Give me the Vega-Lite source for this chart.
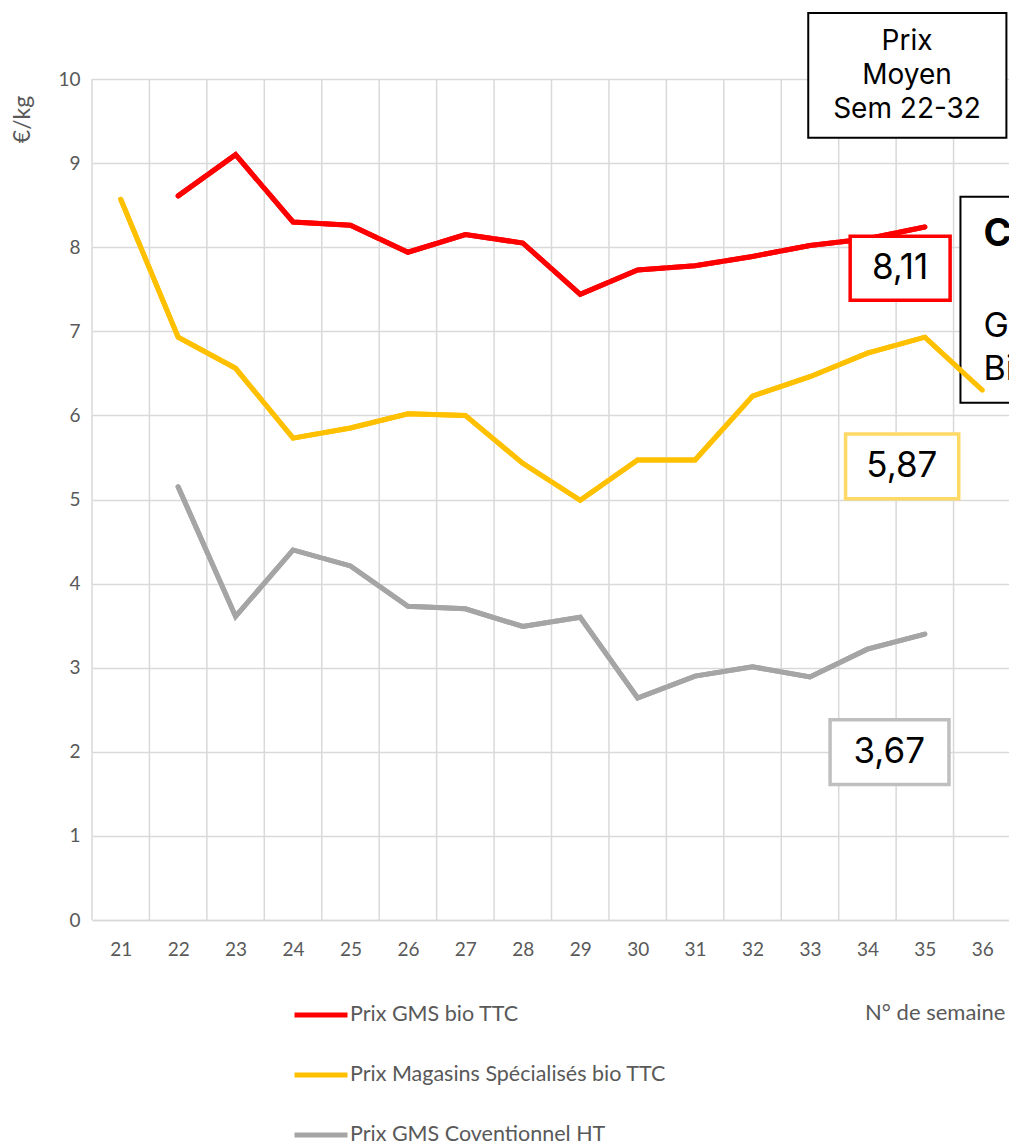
{
  "$schema": "https://vega.github.io/schema/vega-lite/v6.json",
  "width": 919,
  "height": 841,
  "autosize": {"type": "none"},
  "padding": {"left": 92, "top": 79, "right": 0, "bottom": 224},
  "background": "white",
  "config": {"view": {"stroke": null}, "font": "Lato"},
  "datasets": {
    "prices": [
      {"semaine": 22, "serie": "Prix GMS bio TTC", "prix": 8.61},
      {"semaine": 23, "serie": "Prix GMS bio TTC", "prix": 9.10},
      {"semaine": 24, "serie": "Prix GMS bio TTC", "prix": 8.30},
      {"semaine": 25, "serie": "Prix GMS bio TTC", "prix": 8.26},
      {"semaine": 26, "serie": "Prix GMS bio TTC", "prix": 7.94},
      {"semaine": 27, "serie": "Prix GMS bio TTC", "prix": 8.15},
      {"semaine": 28, "serie": "Prix GMS bio TTC", "prix": 8.05},
      {"semaine": 29, "serie": "Prix GMS bio TTC", "prix": 7.44},
      {"semaine": 30, "serie": "Prix GMS bio TTC", "prix": 7.73},
      {"semaine": 31, "serie": "Prix GMS bio TTC", "prix": 7.78},
      {"semaine": 32, "serie": "Prix GMS bio TTC", "prix": 7.89},
      {"semaine": 33, "serie": "Prix GMS bio TTC", "prix": 8.02},
      {"semaine": 34, "serie": "Prix GMS bio TTC", "prix": 8.10},
      {"semaine": 35, "serie": "Prix GMS bio TTC", "prix": 8.24},
      {"semaine": 21, "serie": "Prix Magasins Spécialisés bio TTC", "prix": 8.57},
      {"semaine": 22, "serie": "Prix Magasins Spécialisés bio TTC", "prix": 6.93},
      {"semaine": 23, "serie": "Prix Magasins Spécialisés bio TTC", "prix": 6.56},
      {"semaine": 24, "serie": "Prix Magasins Spécialisés bio TTC", "prix": 5.73},
      {"semaine": 25, "serie": "Prix Magasins Spécialisés bio TTC", "prix": 5.85},
      {"semaine": 26, "serie": "Prix Magasins Spécialisés bio TTC", "prix": 6.02},
      {"semaine": 27, "serie": "Prix Magasins Spécialisés bio TTC", "prix": 6.00},
      {"semaine": 28, "serie": "Prix Magasins Spécialisés bio TTC", "prix": 5.43},
      {"semaine": 29, "serie": "Prix Magasins Spécialisés bio TTC", "prix": 4.99},
      {"semaine": 30, "serie": "Prix Magasins Spécialisés bio TTC", "prix": 5.47},
      {"semaine": 31, "serie": "Prix Magasins Spécialisés bio TTC", "prix": 5.47},
      {"semaine": 32, "serie": "Prix Magasins Spécialisés bio TTC", "prix": 6.23},
      {"semaine": 33, "serie": "Prix Magasins Spécialisés bio TTC", "prix": 6.46},
      {"semaine": 34, "serie": "Prix Magasins Spécialisés bio TTC", "prix": 6.74},
      {"semaine": 35, "serie": "Prix Magasins Spécialisés bio TTC", "prix": 6.93},
      {"semaine": 36, "serie": "Prix Magasins Spécialisés bio TTC", "prix": 6.30},
      {"semaine": 22, "serie": "Prix GMS Coventionnel HT", "prix": 5.15},
      {"semaine": 23, "serie": "Prix GMS Coventionnel HT", "prix": 3.61},
      {"semaine": 24, "serie": "Prix GMS Coventionnel HT", "prix": 4.40},
      {"semaine": 25, "serie": "Prix GMS Coventionnel HT", "prix": 4.21},
      {"semaine": 26, "serie": "Prix GMS Coventionnel HT", "prix": 3.73},
      {"semaine": 27, "serie": "Prix GMS Coventionnel HT", "prix": 3.70},
      {"semaine": 28, "serie": "Prix GMS Coventionnel HT", "prix": 3.49},
      {"semaine": 29, "serie": "Prix GMS Coventionnel HT", "prix": 3.60},
      {"semaine": 30, "serie": "Prix GMS Coventionnel HT", "prix": 2.64},
      {"semaine": 31, "serie": "Prix GMS Coventionnel HT", "prix": 2.90},
      {"semaine": 32, "serie": "Prix GMS Coventionnel HT", "prix": 3.01},
      {"semaine": 33, "serie": "Prix GMS Coventionnel HT", "prix": 2.89},
      {"semaine": 34, "serie": "Prix GMS Coventionnel HT", "prix": 3.22},
      {"semaine": 35, "serie": "Prix GMS Coventionnel HT", "prix": 3.40}
    ],
    "gridx": [
      {"gx": 20.5}, {"gx": 21.5}, {"gx": 22.5}, {"gx": 23.5}, {"gx": 24.5}, {"gx": 25.5},
      {"gx": 26.5}, {"gx": 27.5}, {"gx": 28.5}, {"gx": 29.5}, {"gx": 30.5}, {"gx": 31.5},
      {"gx": 32.5}, {"gx": 33.5}, {"gx": 34.5}, {"gx": 35.5}, {"gx": 36.5}
    ],
    "blackboxes": [
      {"id": "moyen", "x1": 32.97, "x2": 36.42, "y1": 10.785, "y2": 9.30},
      {"id": "cible", "x1": 35.62, "x2": 38.5, "y1": 8.60, "y2": 6.15}
    ],
    "valueboxes": [
      {"id": "GMS bio", "x1": 33.70, "x2": 35.44, "y1": 8.13, "y2": 7.37, "texte": "8,11", "tx": 34.57, "ty": 7.75},
      {"id": "MS bio", "x1": 33.62, "x2": 35.59, "y1": 5.78, "y2": 5.01, "texte": "5,87", "tx": 34.60, "ty": 5.40},
      {"id": "GMS conv", "x1": 33.35, "x2": 35.42, "y1": 2.38, "y2": 1.61, "texte": "3,67", "tx": 34.38, "ty": 2.00}
    ],
    "moyenlines": [
      {"texte": "Prix", "tx": 34.69, "ty": 10.44},
      {"texte": "Moyen", "tx": 34.69, "ty": 10.04},
      {"texte": "Sem 22-32", "tx": 34.69, "ty": 9.63}
    ],
    "ciblebold": [
      {"texte": "C", "tx": 36.02, "ty": 8.14}
    ],
    "ciblelines": [
      {"texte": "G", "tx": 36.02, "ty": 7.05},
      {"texte": "Bi", "tx": 36.02, "ty": 6.54}
    ]
  },
  "layer": [
    {
      "data": {"name": "prices"},
      "mark": {"type": "line", "strokeWidth": 5, "strokeCap": "round", "strokeJoin": "miter"},
      "encoding": {
        "x": {
          "field": "semaine", "type": "quantitative", "title": "N° de semaine",
          "scale": {"domain": [20.5, 36.5], "nice": false, "zero": false},
          "axis": {
            "values": [21, 22, 23, 24, 25, 26, 27, 28, 29, 30, 31, 32, 33, 34, 35, 36],
            "format": "d", "grid": false, "ticks": false,
            "domainColor": "#D9D9D9", "domainWidth": 1.5,
            "labelFontSize": 19, "labelColor": "#595959", "labelPadding": 20,
            "labelFlush": false,
            "titleFontSize": 22, "titleFontWeight": "normal",
            "titleColor": "#595959", "titleX": 913, "titleY": 92, "titleAlign": "right",
            "titleBaseline": "middle"
          }
        },
        "y": {
          "field": "prix", "type": "quantitative", "title": "€/kg",
          "scale": {"domain": [0, 10], "nice": false, "zero": true},
          "axis": {
            "values": [0, 1, 2, 3, 4, 5, 6, 7, 8, 9, 10],
            "format": "d",
            "grid": true, "gridColor": "#D9D9D9", "gridWidth": 1.5,
            "domain": false, "ticks": false,
            "labelFontSize": 19, "labelColor": "#595959", "labelPadding": 12,
            "titleFontSize": 23, "titleFontWeight": "normal",
            "titleColor": "#595959", "titleAngle": -90, "titleX": -70, "titleY": 40,
            "titleAlign": "center", "titleBaseline": "middle"
          }
        },
        "color": {
          "field": "serie", "type": "nominal",
          "scale": {
            "domain": ["Prix GMS bio TTC", "Prix Magasins Spécialisés bio TTC", "Prix GMS Coventionnel HT"],
            "range": ["#FF0000", "#FFC000", "#A5A5A5"]
          },
          "legend": {
            "orient": "none", "legendX": 200, "legendY": 907, "direction": "vertical",
            "title": null, "padding": 0,
            "symbolType": "stroke", "symbolSize": 2809, "symbolStrokeWidth": 5,
            "labelFontSize": 21.5, "labelColor": "#595959", "labelOffset": 0, "labelLimit": 0,
            "rowPadding": 20
          }
        }
      }
    },
    {
      "data": {"name": "gridx"},
      "mark": {"type": "rule", "color": "#D9D9D9", "strokeWidth": 1.5},
      "encoding": {
        "x": {"field": "gx", "type": "quantitative", "title": "N° de semaine", "scale": {"domain": [20.5, 36.5], "nice": false, "zero": false}}
      }
    },
    {
      "data": {"name": "blackboxes"},
      "mark": {"type": "rect", "fill": "white", "stroke": "black", "strokeWidth": 2},
      "encoding": {
        "x": {"field": "x1", "type": "quantitative", "title": "N° de semaine", "scale": {"domain": [20.5, 36.5], "nice": false, "zero": false}},
        "x2": {"field": "x2"},
        "y": {"field": "y1", "type": "quantitative", "title": "€/kg", "scale": {"domain": [0, 10], "nice": false}},
        "y2": {"field": "y2"}
      }
    },
    {
      "data": {"name": "prices"},
      "mark": {"type": "line", "strokeWidth": 5, "strokeCap": "round", "strokeJoin": "miter"},
      "encoding": {
        "x": {"field": "semaine", "type": "quantitative", "title": "N° de semaine", "scale": {"domain": [20.5, 36.5], "nice": false, "zero": false}},
        "y": {"field": "prix", "type": "quantitative", "title": "€/kg", "scale": {"domain": [0, 10], "nice": false}},
        "color": {"field": "serie", "type": "nominal"}
      }
    },
    {
      "data": {"name": "valueboxes"},
      "mark": {"type": "rect", "fill": "white", "strokeWidth": 3.5},
      "encoding": {
        "x": {"field": "x1", "type": "quantitative", "title": "N° de semaine", "scale": {"domain": [20.5, 36.5], "nice": false, "zero": false}},
        "x2": {"field": "x2"},
        "y": {"field": "y1", "type": "quantitative", "title": "€/kg", "scale": {"domain": [0, 10], "nice": false}},
        "y2": {"field": "y2"},
        "stroke": {
          "field": "id", "type": "nominal",
          "scale": {"domain": ["GMS bio", "MS bio", "GMS conv"], "range": ["#FF0000", "#FFD966", "#BFBFBF"]},
          "legend": null
        }
      }
    },
    {
      "data": {"name": "valueboxes"},
      "mark": {"type": "text", "font": "Inter", "fontSize": 35, "color": "black", "align": "center", "baseline": "middle"},
      "encoding": {
        "x": {"field": "tx", "type": "quantitative", "title": "N° de semaine", "scale": {"domain": [20.5, 36.5], "nice": false, "zero": false}},
        "y": {"field": "ty", "type": "quantitative", "title": "€/kg", "scale": {"domain": [0, 10], "nice": false}},
        "text": {"field": "texte"}
      }
    },
    {
      "data": {"name": "moyenlines"},
      "mark": {"type": "text", "font": "Inter", "fontSize": 28, "color": "black", "align": "center", "baseline": "middle"},
      "encoding": {
        "x": {"field": "tx", "type": "quantitative", "title": "N° de semaine", "scale": {"domain": [20.5, 36.5], "nice": false, "zero": false}},
        "y": {"field": "ty", "type": "quantitative", "title": "€/kg", "scale": {"domain": [0, 10], "nice": false}},
        "text": {"field": "texte"}
      }
    },
    {
      "data": {"name": "ciblebold"},
      "mark": {"type": "text", "font": "Inter", "fontSize": 38, "fontWeight": "bold", "color": "black", "align": "left", "baseline": "middle"},
      "encoding": {
        "x": {"field": "tx", "type": "quantitative", "title": "N° de semaine", "scale": {"domain": [20.5, 36.5], "nice": false, "zero": false}},
        "y": {"field": "ty", "type": "quantitative", "title": "€/kg", "scale": {"domain": [0, 10], "nice": false}},
        "text": {"field": "texte"}
      }
    },
    {
      "data": {"name": "ciblelines"},
      "mark": {"type": "text", "font": "Inter", "fontSize": 34, "color": "black", "align": "left", "baseline": "middle"},
      "encoding": {
        "x": {"field": "tx", "type": "quantitative", "title": "N° de semaine", "scale": {"domain": [20.5, 36.5], "nice": false, "zero": false}},
        "y": {"field": "ty", "type": "quantitative", "title": "€/kg", "scale": {"domain": [0, 10], "nice": false}},
        "text": {"field": "texte"}
      }
    }
  ]
}
